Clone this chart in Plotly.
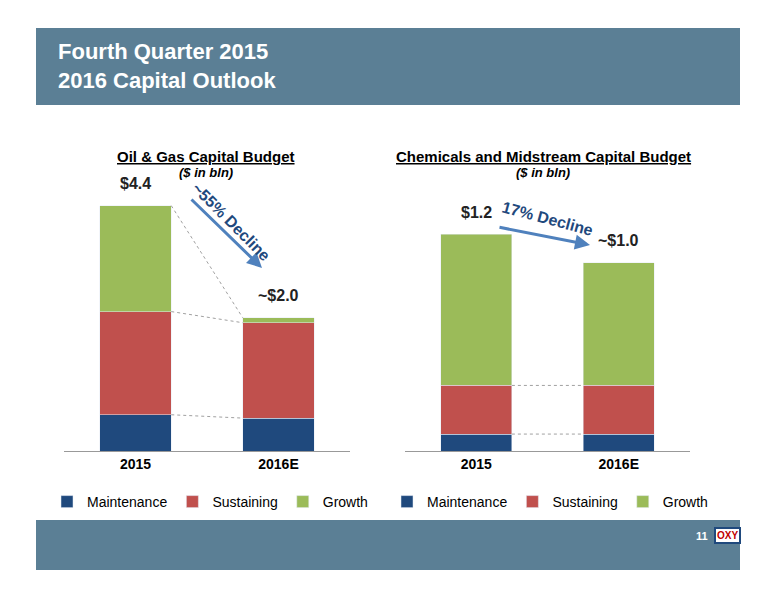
import plotly.graph_objects as go
import numpy as np

years = ["2015", "2016E"]
og_maint = [0.65, 0.59]
og_sust = [1.85, 1.71]
og_growth = [1.9, 0.09]
og_labels = ["$4.4", "~$2.0"]

cm_maint = [0.094, 0.094]
cm_sust = [0.27, 0.27]
cm_growth = [0.84, 0.68]
cm_labels = ["$1.2", "~$1.0"]

colors = {"Maintenance": "#1F497D", "Sustaining": "#C0504D", "Growth": "#9BBB59"}
W, H = 776, 600
OFF = 8  # page offset of the rendered figure

def px(y):
    return 1 - (y - OFF) / H

def pxx(x):
    return (x - OFF) / W

fig = go.Figure()
for name, vals in [("Maintenance", og_maint), ("Sustaining", og_sust), ("Growth", og_growth)]:
    fig.add_bar(x=years, y=vals, name=name, marker_color=colors[name], width=0.5,
                xaxis="x", yaxis="y", legend="legend")
for name, vals in [("Maintenance", cm_maint), ("Sustaining", cm_sust), ("Growth", cm_growth)]:
    fig.add_bar(x=years, y=vals, name=name, marker_color=colors[name], width=0.5,
                xaxis="x2", yaxis="y2", legend="legend2")

shapes = [
    dict(type="rect", xref="paper", yref="paper", x0=pxx(36), x1=pxx(740), y0=px(105), y1=px(28),
         fillcolor="#5B7F95", line_width=0, layer="below"),
    dict(type="rect", xref="paper", yref="paper", x0=pxx(36), x1=pxx(740), y0=px(570), y1=px(520),
         fillcolor="#5B7F95", line_width=0, layer="below"),
]
# dashed connectors between stack boundaries
for xr, yr, m, s in [("x", "y", og_maint, og_sust), ("x2", "y2", cm_maint, cm_sust)]:
    c1 = np.array(m)
    c2 = c1 + np.array(s)
    for c in (c1, c2):
        shapes.append(dict(type="line", xref=xr, yref=yr, x0=0.25, x1=0.75, y0=c[0], y1=c[1],
                           line=dict(color="#888", width=0.8, dash="dot")))
t = np.array(og_maint) + np.array(og_sust) + np.array(og_growth)
shapes.append(dict(type="line", xref="x", yref="y", x0=0.25, x1=0.75, y0=t[0], y1=t[1],
                   line=dict(color="#888", width=0.8, dash="dot")))

ann = [
    dict(text="<b>Fourth Quarter 2015<br>2016 Capital Outlook</b>", xref="paper", yref="paper",
         x=pxx(56), y=px(66), xanchor="left", yanchor="middle", align="left", showarrow=False,
         font=dict(size=22, color="white")),
    dict(text="<b>11</b>", xref="paper", yref="paper", x=pxx(702), y=px(544), xanchor="center", showarrow=False,
         font=dict(size=11, color="white")),
    dict(text="<b>OXY</b>", xref="paper", yref="paper", x=pxx(727), y=px(544), xanchor="center", showarrow=False,
         font=dict(size=10, color="#C00000"), bgcolor="white", bordercolor="#1F497D", borderwidth=2),
    dict(text="<b><u>Oil & Gas Capital Budget</u></b>", xref="paper", yref="paper", x=pxx(206), y=px(146),
         xanchor="center", showarrow=False, font=dict(size=15, color="black")),
    dict(text="<b><i>($ in bln)</i></b>", xref="paper", yref="paper", x=pxx(206), y=px(163),
         xanchor="center", showarrow=False, font=dict(size=13, color="black")),
    dict(text="<b><u>Chemicals and Midstream Capital Budget</u></b>", xref="paper", yref="paper", x=pxx(543),
         y=px(146), xanchor="center", showarrow=False, font=dict(size=15, color="black")),
    dict(text="<b><i>($ in bln)</i></b>", xref="paper", yref="paper", x=pxx(543), y=px(163),
         xanchor="center", showarrow=False, font=dict(size=13, color="black")),
    # arrows
    dict(xref="paper", yref="paper", x=pxx(262), y=px(268), ax=-72, ay=-70,
         showarrow=True, arrowhead=2, arrowwidth=3, arrowcolor="#4F81BD", text=""),
    dict(xref="paper", yref="paper", x=pxx(590), y=px(245), ax=-92, ay=-18,
         showarrow=True, arrowhead=2, arrowwidth=3, arrowcolor="#4F81BD", text=""),
    dict(text="<b>~55% Decline</b>", xref="paper", yref="paper", x=pxx(232), y=px(222), xanchor="center",
         showarrow=False, textangle=45, font=dict(size=16, color="#1F497D")),
    dict(text="<b>17% Decline</b>", xref="paper", yref="paper", x=pxx(547), y=px(218), xanchor="center",
         showarrow=False, textangle=15, font=dict(size=16, color="#1F497D")),
]
for xr, yr, m, s, g, labels in [("x", "y", og_maint, og_sust, og_growth, og_labels),
                                 ("x2", "y2", cm_maint, cm_sust, cm_growth, cm_labels)]:
    tot = np.array(m) + np.array(s) + np.array(g)
    for i, yr_ in enumerate(years):
        ann.append(dict(text="<b>" + labels[i] + "</b>", xref=xr, yref=yr, x=i, y=tot[i],
                        yshift=22, showarrow=False, font=dict(size=16, color="#222")))

ybot = px(451)
ytop = px(161)
fig.update_layout(
    width=W, height=H, margin=dict(l=0, r=0, t=0, b=0),
    paper_bgcolor="white", plot_bgcolor="white", barmode="stack",
    font=dict(family="Liberation Sans, Arial", color="black"),
    xaxis=dict(domain=[pxx(64), pxx(350)], type="category", showline=True, linecolor="#999",
               tickfont=dict(size=14), ticks="", tickprefix="<b>", ticksuffix="</b>"),
    yaxis=dict(domain=[ybot, ytop], range=[0, 5.2], visible=False),
    xaxis2=dict(domain=[pxx(405), pxx(690)], type="category", showline=True, linecolor="#999",
                tickfont=dict(size=14), ticks="", tickprefix="<b>", ticksuffix="</b>", anchor="y2"),
    yaxis2=dict(domain=[ybot, ytop], range=[0, 1.61], visible=False, anchor="x2"),
    legend=dict(orientation="h", x=pxx(210), xanchor="center", y=px(502), yanchor="middle",
                font=dict(size=14), itemwidth=30, traceorder="normal"),
    legend2=dict(orientation="h", x=pxx(550), xanchor="center", y=px(502), yanchor="middle",
                 font=dict(size=14), itemwidth=30, traceorder="normal"),
    shapes=shapes, annotations=ann,
)
fig.write_html("out.html")
